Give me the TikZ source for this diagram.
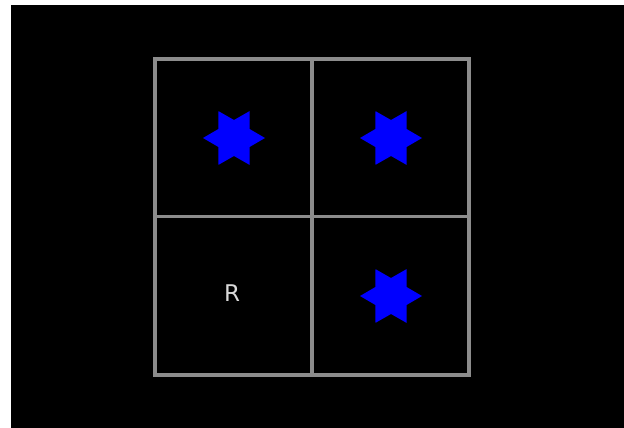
\documentclass[tikz,border=0pt]{standalone}
\usepackage{fontspec}
\setmainfont{DejaVu Sans}
\begin{document}
\begin{tikzpicture}[x=1pt,y=-1pt,
  gridline/.style={draw=black!45, line width=3.2pt},
  starshape/.style={fill=blue, draw=none},
  lbl/.style={text=white!85!black, font=\fontsize{23}{26}\selectfont, inner sep=0pt}]
\useasboundingbox (0,0) rectangle (624,428);
\fill[white] (0,0) rectangle (624,428);
\fill[black] (11,5) rectangle (624,428);
% grid
\draw[gridline] (155,59) rectangle (469,375);
\draw[gridline] (312,59) -- (312,375);
\draw[gridline] (155,216.5) -- (469,216.5);
% stars
\foreach \cx/\cy in {234/138, 391/138, 391/296}{
  \begin{scope}[shift={(\cx,\cy)}]
    \fill[starshape] (0:31) -- (30:18) -- (60:31) -- (90:18) -- (120:31) -- (150:18)
      -- (180:31) -- (210:18) -- (240:31) -- (270:18) -- (300:31) -- (330:18) -- cycle;
  \end{scope}
}
\node[lbl] (r) at (232,293) {R};
\end{tikzpicture}
\end{document}
